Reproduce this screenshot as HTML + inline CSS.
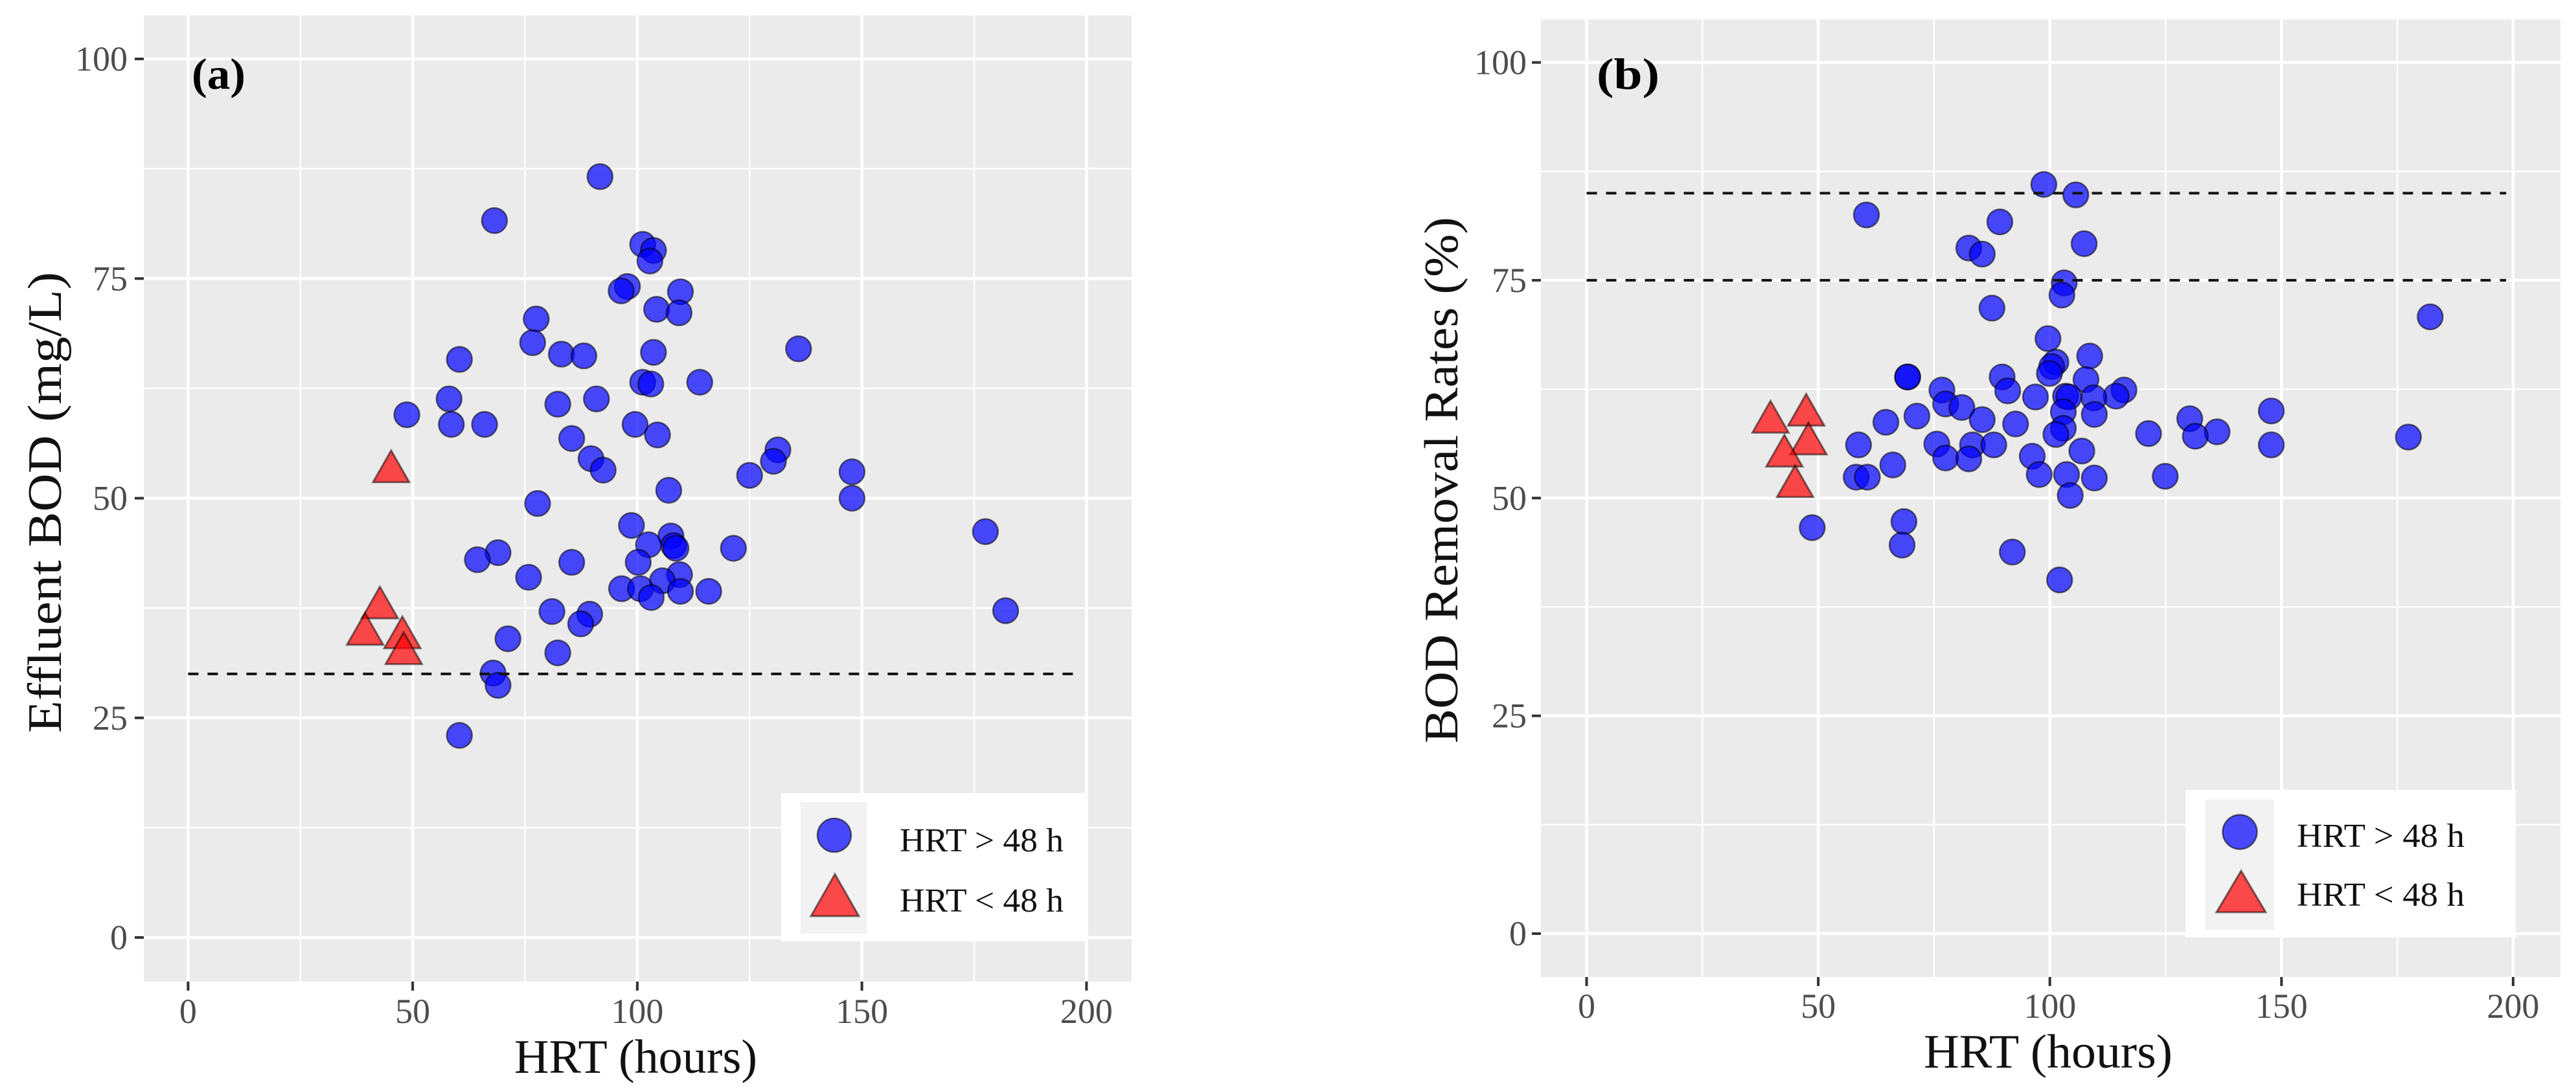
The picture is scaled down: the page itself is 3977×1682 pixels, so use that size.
<!DOCTYPE html>
<html lang="en">
<head>
<meta charset="utf-8">
<title>Effluent BOD and BOD removal rates versus HRT</title>
<style>
html,body{margin:0;padding:0;background:#fff;}
body{width:3977px;height:1682px;overflow:hidden;}
svg{display:block;}
text{font-family:"Liberation Serif",serif;}
.axis-title{font-size:74px;fill:#111;}
.legend-label{font-size:52px;fill:#111;}
.panel-tag{font-size:68px;font-weight:bold;fill:#000;}
</style>
</head>
<body>
<svg id="fig" width="3977" height="1682" viewBox="0 0 3977 1682" xmlns="http://www.w3.org/2000/svg">
  <rect x="0" y="0" width="3977" height="1682" fill="#fff"/>

  <g>
    <rect x="222" y="24" width="1525" height="1492" fill="#ebebeb"/>
    <g id="a-grid"></g>
    <g id="a-ticks"></g>
    <g id="a-points"></g>
    <g id="a-lines"></g>
    <text class="panel-tag" x="296" y="137" textLength="83" lengthAdjust="spacingAndGlyphs">(a)</text>
    <text class="axis-title" x="794" y="1657" textLength="375" lengthAdjust="spacingAndGlyphs">HRT (hours)</text>
    <text class="axis-title" transform="translate(94,1132) rotate(-90)" textLength="712" lengthAdjust="spacingAndGlyphs">Effluent BOD (mg/L)</text>
    <g>
      <rect x="1206" y="1225" width="473" height="229" fill="#fff"/>
      <rect x="1236" y="1239" width="102" height="203" fill="#f2f2f2"/>
      <circle cx="1288" cy="1290" r="26" fill="#0000ff" fill-opacity="0.7" stroke="#000" stroke-opacity="0.55" stroke-width="2.5"/>
      <polygon points="1289,1350 1326,1415 1252,1415" fill="#ff0000" fill-opacity="0.7" stroke="#000" stroke-opacity="0.5" stroke-width="3"/>
      <text class="legend-label" x="1389" y="1315" textLength="253" lengthAdjust="spacingAndGlyphs">HRT &gt; 48 h</text>
      <text class="legend-label" x="1389" y="1408" textLength="253" lengthAdjust="spacingAndGlyphs">HRT &lt; 48 h</text>
    </g>
  </g>

  <g>
    <rect x="2379" y="30" width="1574" height="1479" fill="#ebebeb"/>
    <g id="b-grid"></g>
    <g id="b-ticks"></g>
    <g id="b-points"></g>
    <g id="b-lines"></g>
    <text class="panel-tag" x="2465" y="137" textLength="97" lengthAdjust="spacingAndGlyphs">(b)</text>
    <text class="axis-title" x="2970" y="1649" textLength="384" lengthAdjust="spacingAndGlyphs">HRT (hours)</text>
    <text class="axis-title" transform="translate(2250,1148) rotate(-90)" textLength="813" lengthAdjust="spacingAndGlyphs">BOD Removal Rates (%)</text>
    <g>
      <rect x="3374" y="1220" width="510" height="228" fill="#fff"/>
      <rect x="3405" y="1235" width="106" height="201" fill="#f2f2f2"/>
      <circle cx="3458" cy="1285" r="26.5" fill="#0000ff" fill-opacity="0.7" stroke="#000" stroke-opacity="0.55" stroke-width="2.5"/>
      <polygon points="3460,1345 3498,1409 3422,1409" fill="#ff0000" fill-opacity="0.7" stroke="#000" stroke-opacity="0.5" stroke-width="3"/>
      <text class="legend-label" x="3546" y="1308" textLength="259" lengthAdjust="spacingAndGlyphs">HRT &gt; 48 h</text>
      <text class="legend-label" x="3546" y="1399" textLength="259" lengthAdjust="spacingAndGlyphs">HRT &lt; 48 h</text>
    </g>
  </g>
</svg>

<script>
const xTickValues = [0, 50, 100, 150, 200];
const xMinorValues = [25, 75, 125, 175];
const yTickValues = [0, 25, 50, 75, 100];
const yMinorValues = [12.5, 37.5, 62.5, 87.5];

const bodHrtHigh = [91.7,68.2,101.2,103.6,102.8,97.8,96.4,109.6,104.3,109.3,77.5,76.7,135.9,83.1,88.1,103.6,60.4,101.2,103,113.9,82.3,90.9,58.1,48.7,58.6,66,99.5,104.5,85.4,89.7,92.4,131.3,130.3,125,147.8,147.8,107,77.8,98.7,177.5,107.5,102.5,108.1,108.6,121.4,69,64.4,85.4,100.2,75.8,109.4,105.6,96.5,100.7,103.1,109.6,115.9,81,89.4,87.4,182,71.2,82.3,67.9,69,60.4];
const bodValueHigh = [86.6,81.6,78.9,78.2,77,74.1,73.6,73.5,71.5,71.1,70.4,67.7,67,66.4,66.2,66.6,65.8,63.2,63,63.2,60.7,61.3,61.3,59.5,58.4,58.4,58.4,57.2,56.8,54.5,53.2,55.5,54.2,52.6,53,50,50.9,49.4,46.9,46.2,45.7,44.7,44.6,44.3,44.3,43.8,43,42.7,42.7,41,41.3,40.6,39.7,39.7,38.7,39.4,39.4,37.1,36.8,35.7,37.2,34,32.4,30.1,28.7,23];
const bodHrtLow = [45.2,42.7,39.4,47.7,48];
const bodValueLow = [53,37.5,34.5,34.1,32.3];
const bodThresholds = [30];

const removalHrtHigh = [98.7,105.6,60.4,89.2,107.4,82.5,85.4,103.1,102.6,87.5,182.1,99.6,108.6,101.3,100.4,99.9,89.7,69.3,69.3,107.8,76.7,90.9,116,114.3,96.9,103.4,104.1,109.5,77.5,81,109.6,102.9,147.8,71.3,85.4,130.2,64.6,92.6,121.3,136.1,131.4,102.9,101.3,177.4,75.6,83.3,87.9,147.8,58.7,106.9,96.2,77.5,82.5,66.1,97.7,103.6,109.6,58.2,60.6,124.9,104.4,68.5,48.7,68.1,91.9,102.1];
const removalValueHigh = [86,84.8,82.5,81.7,79.2,78.7,78,74.7,73.3,71.8,70.8,68.3,66.3,65.6,65.1,64.3,63.9,63.9,63.9,63.6,62.4,62.3,62.4,61.7,61.6,61.7,61.6,61.5,60.8,60.4,59.6,59.9,60,59.4,59,59.1,58.7,58.5,57.4,57.6,57.1,58,57.3,57,56.2,56.1,56.1,56.1,56.1,55.4,54.8,54.6,54.5,53.8,52.7,52.7,52.3,52.4,52.4,52.5,50.3,47.3,46.6,44.6,43.8,40.6];
const removalHrtLow = [39.7,47.4,47.9,42.7,45];
const removalValueLow = [58.7,59.5,56.2,54.8,51.3];
const removalThresholds = [75, 85];

const SVGNS = 'http://www.w3.org/2000/svg';
function el(tag, attrs, parent) {
  const node = document.createElementNS(SVGNS, tag);
  for (const key in attrs) node.setAttribute(key, attrs[key]);
  parent.appendChild(node);
  return node;
}

const xScaleA = v => 290.4 + v * 6.935;
const yScaleA = v => 1448 - v * 13.57;
const xScaleB = v => 2449.5 + v * 7.152;
const yScaleB = v => 1442 - v * 13.455;

function drawPanel(id, box, xs, ys, hrtHigh, valHigh, hrtLow, valLow, thresholds, labelRight, xLabelBase) {
  const grid = document.getElementById(id + '-grid');
  const ticks = document.getElementById(id + '-ticks');
  const points = document.getElementById(id + '-points');
  const lines = document.getElementById(id + '-lines');

  xMinorValues.forEach(v => {
    const g = el('line', {x1: xs(v), x2: xs(v), y1: box.top, y2: box.bottom, stroke: '#fff', 'stroke-width': 2.5}, grid);
    
    
  });
  yMinorValues.forEach(v => {
    const g = el('line', {x1: box.left, x2: box.right, y1: ys(v), y2: ys(v), stroke: '#fff', 'stroke-width': 2.5}, grid);
    
    
  });
  xTickValues.forEach(v => {
    const g = el('line', {x1: xs(v), x2: xs(v), y1: box.top, y2: box.bottom, stroke: '#fff', 'stroke-width': 4.5}, grid);
    
    
    const t = el('line', {x1: xs(v), x2: xs(v), y1: box.bottom, y2: box.bottom + 14, stroke: '#333', 'stroke-width': 4}, ticks);
    
    
    const label = el('text', {x: xs(v), y: xLabelBase, 'text-anchor': 'middle', 'font-size': 54, fill: '#4d4d4d'}, ticks);
    
    
    label.textContent = String(v);
  });
  yTickValues.forEach(v => {
    const g = el('line', {x1: box.left, x2: box.right, y1: ys(v), y2: ys(v), stroke: '#fff', 'stroke-width': 4.5}, grid);
    
    
    const t = el('line', {x1: box.left - 14, x2: box.left, y1: ys(v), y2: ys(v), stroke: '#333', 'stroke-width': 4}, ticks);
    
    
    const label = el('text', {x: labelRight, y: ys(v) + 18, 'text-anchor': 'end', 'font-size': 54, fill: '#4d4d4d'}, ticks);
    
    
    label.textContent = String(v);
  });

  hrtHigh.forEach((h, i) => {
    const c = el('circle', {cx: xs(h), cy: ys(valHigh[i]), r: 19.5, fill: '#0000ff', 'fill-opacity': 0.7, stroke: '#000', 'stroke-opacity': 0.55, 'stroke-width': 2.5}, points);
    
    
  });
  hrtLow.forEach((h, i) => {
    const cx = xs(h), cy = ys(valLow[i]);
    const pts = [[cx, cy - 33], [cx + 28, cy + 16], [cx - 28, cy + 16]].map(p => p.join(',')).join(' ');
    const p = el('polygon', {points: pts, fill: '#ff0000', 'fill-opacity': 0.7, stroke: '#000', 'stroke-opacity': 0.5, 'stroke-width': 3}, points);
    
    
  });

  thresholds.forEach(v => {
    const l = el('line', {x1: xs(0), x2: xs(198.5), y1: ys(v), y2: ys(v), stroke: '#111', 'stroke-width': 4, 'stroke-dasharray': '16 14'}, lines);
    
    
  });
}

drawPanel('a', {left: 222, right: 1747, top: 24, bottom: 1516}, xScaleA, yScaleA, bodHrtHigh, bodValueHigh, bodHrtLow, bodValueLow, bodThresholds, 197, 1580);
drawPanel('b', {left: 2379, right: 3953, top: 30, bottom: 1509}, xScaleB, yScaleB, removalHrtHigh, removalValueHigh, removalHrtLow, removalValueLow, removalThresholds, 2357, 1572);
</script>
</body>
</html>
